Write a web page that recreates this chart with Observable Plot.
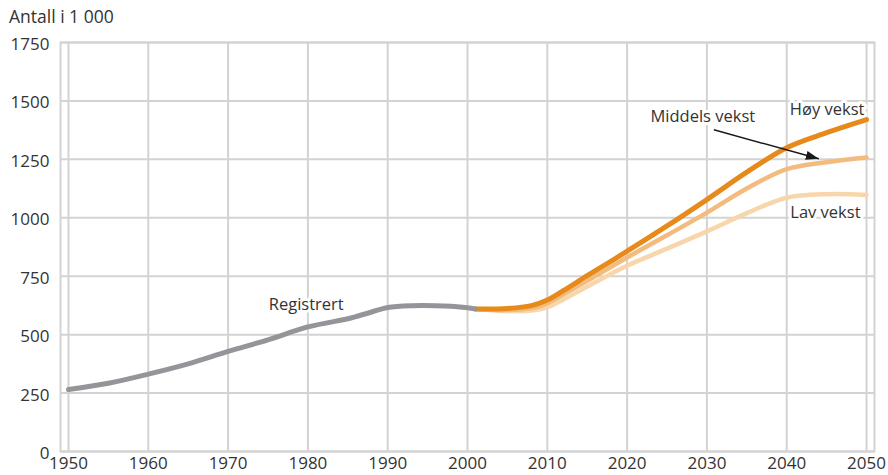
<!DOCTYPE html>
<html>
<head>
<meta charset="utf-8">
<script src="https://cdn.jsdelivr.net/npm/d3@7"></script>
<script src="https://cdn.jsdelivr.net/npm/@observablehq/plot@0.6"></script>
<style>
  html, body { margin: 0; padding: 0; background: #fff; }
  #title { height: 30px; box-sizing: border-box; padding: 4px 0 0 9px; font: 17.5px "Open Sans", sans-serif; color: #333; line-height: normal; }
  #chart svg { display: block; }
</style>
</head>
<body>
<div id="title">Antall i 1 000</div>
<div id="chart"></div>
<script>
// Registered (historical) series
const regYears  = [1950, 1955, 1960, 1965, 1970, 1975, 1980, 1985, 1986, 1988, 1990, 1993, 1996, 1998, 2000, 2001];
const regValues = [265, 292, 331, 375, 428, 478, 533, 568, 577, 597, 616, 624, 624, 621, 615, 610];

// Projections
const projYears = [2001, 2005, 2008, 2010, 2012, 2015, 2020, 2025, 2030, 2035, 2040, 2045, 2050];
const highValues = [610, 612, 624, 648, 688, 752, 857, 965, 1078, 1195, 1300, 1364, 1420];
const midValues  = [610, 606, 613, 634, 672, 730, 830, 925, 1022, 1125, 1208, 1238, 1258];
const lowValues  = [610, 601, 603, 617, 650, 706, 795, 868, 942, 1020, 1086, 1101, 1098];

// Axis ticks
const xTicks = [1950, 1960, 1970, 1980, 1990, 2000, 2010, 2020, 2030, 2040, 2050];
const yTicks = [0, 250, 500, 750, 1000, 1250, 1500, 1750];

// Annotations (data coordinates)
const labelTexts = ["Registrert", "Middels vekst", "Høy vekst", "Lav vekst"];
const labelYears = [1975.1, 2022.93, 2040.39, 2040.45];
const labelValues = [626, 1432, 1463, 1023];
const arrowFrom = [2030.87, 1376.5];
const arrowTo = [2044.02, 1252.4];

const reg = regYears.map((x, i) => ({x, y: regValues[i]}));
const high = projYears.map((x, i) => ({x, y: highValues[i]}));
const mid = projYears.map((x, i) => ({x, y: midValues[i]}));
const low = projYears.map((x, i) => ({x, y: lowValues[i]}));
const labels = labelTexts.map((t, i) => ({t, x: labelYears[i], y: labelValues[i]}));
const arrows = [{x1: arrowFrom[0], y1: arrowFrom[1], x2: arrowTo[0], y2: arrowTo[1]}];

const gridColor = "#d3d3d3";
const textColor = "#333";

function filledArrow(color) {
  const ns = "http://www.w3.org/2000/svg";
  const m = document.createElementNS(ns, "marker");
  m.setAttribute("viewBox", "-13 -4.5 13 9");
  m.setAttribute("markerWidth", "13");
  m.setAttribute("markerHeight", "9");
  m.setAttribute("markerUnits", "userSpaceOnUse");
  m.setAttribute("orient", "auto");
  m.setAttribute("refX", "0");
  m.setAttribute("refY", "0");
  const p = document.createElementNS(ns, "path");
  p.setAttribute("d", "M-13,-4.5L0,0L-13,4.5Z");
  p.setAttribute("fill", color);
  p.setAttribute("stroke", "none");
  m.appendChild(p);
  return m;
}

function arrowMark() {
  try {
    return Plot.link(arrows, {x1: "x1", y1: "y1", x2: "x2", y2: "y2", stroke: "#1a1a1a", strokeWidth: 1.4, markerEnd: filledArrow});
  } catch (e) {
    return Plot.arrow(arrows, {x1: "x1", y1: "y1", x2: "x2", y2: "y2", stroke: "#1a1a1a", strokeWidth: 1.4, headLength: 12});
  }
}

const lineOpts = {x: "x", y: "y", curve: "catmull-rom", strokeLinecap: "round", strokeLinejoin: "round"};

const chart = Plot.plot({
  width: 888,
  height: 445,
  marginTop: 12,
  marginBottom: 24,
  marginLeft: 60,
  marginRight: 14,
  style: {fontFamily: "'Open Sans', sans-serif", fontSize: "17px", color: textColor, background: "#fff"},
  x: {domain: [1949, 2051]},
  y: {domain: [0, 1750]},
  marks: [
    Plot.gridX(xTicks, {stroke: gridColor, strokeOpacity: 1, strokeWidth: 2}),
    Plot.gridY(yTicks, {stroke: gridColor, strokeOpacity: 1, strokeWidth: 2}),
    Plot.frame({stroke: gridColor, strokeWidth: 2}),
    Plot.axisX({ticks: xTicks, tickSize: 0, tickPadding: 5.5, tickFormat: "d", label: null, fill: textColor, fontSize: 17}),
    Plot.axisY({ticks: yTicks, tickSize: 0, tickPadding: 11, tickFormat: "d", label: null, dy: 2, fill: textColor, fontSize: 17}),
    Plot.text(labels, {x: "x", y: "y", text: "t", textAnchor: "start", fill: textColor, stroke: "white", strokeWidth: 6, fontSize: 16.5}),
    Plot.line(low, {...lineOpts, stroke: "#f8d6ab", strokeWidth: 4.5}),
    Plot.line(mid, {...lineOpts, stroke: "#f3bc7e", strokeWidth: 4.5}),
    Plot.line(high, {...lineOpts, stroke: "#e68a1c", strokeWidth: 5}),
    Plot.line(reg, {...lineOpts, stroke: "#939598", strokeWidth: 5}),
    arrowMark()
  ]
});
document.getElementById("chart").appendChild(chart);
</script>
</body>
</html>
